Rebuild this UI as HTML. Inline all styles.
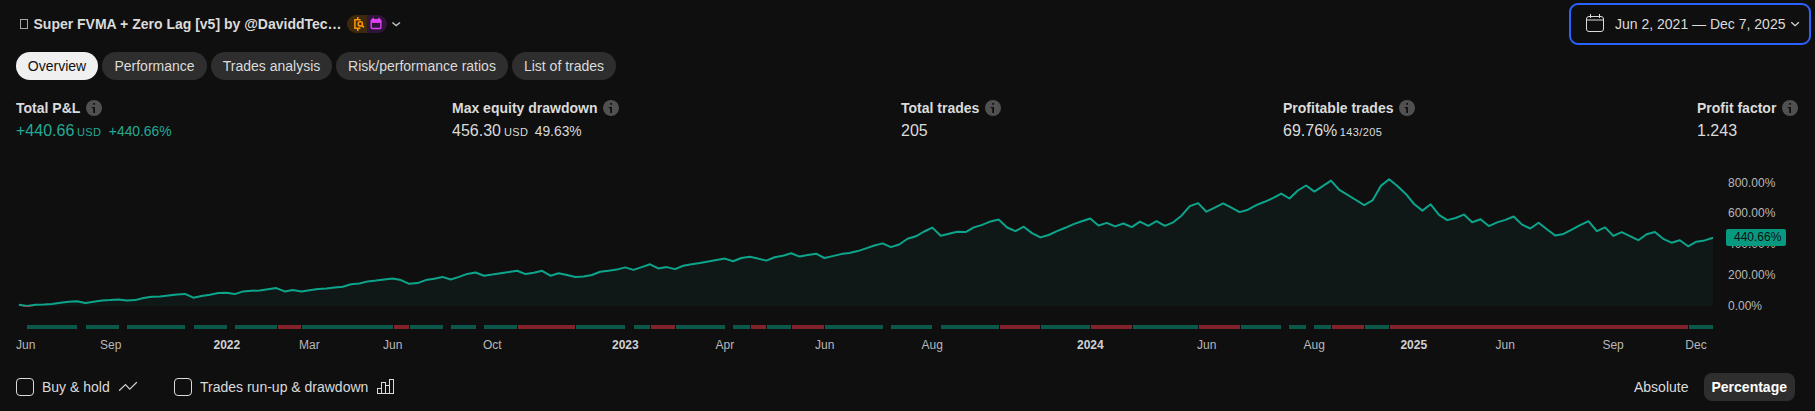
<!DOCTYPE html>
<html><head><meta charset="utf-8">
<style>
*{box-sizing:border-box;margin:0;padding:0}
html,body{width:1815px;height:411px;background:#0f0f0f;overflow:hidden}
body{font-family:"Liberation Sans",sans-serif;color:#dbdbdb;position:relative;font-size:14px}
.abs{position:absolute;white-space:nowrap}
.title{left:20px;top:16px;font-weight:bold;font-size:14px;line-height:16px;color:#dbdbdb}
.tofu{position:absolute;left:20px;top:19px;width:8px;height:10px;border:1px solid #a8a8a8}
.pill{left:347px;top:15px;width:40px;height:18px;border-radius:9px;overflow:hidden;display:flex}
.pill i{display:block;width:20px;height:18px}
.date{left:1569px;top:3px;width:242px;height:42px;border:2px solid #2962ff;border-radius:9px}
.tab{top:52px;height:28px;border-radius:14px;background:#2e2e2e;color:#dbdbdb;font-size:14px;line-height:28px;text-align:center}
.tab.on{background:#f0f0f0;color:#0f0f0f}
.lbl{top:100px;font-weight:bold;font-size:14px;line-height:16px}
.val{top:122px;font-size:16px;line-height:18px}
.val small{font-size:11px;margin-left:2.6px;letter-spacing:0.38px}
.val span{font-size:13.85px;margin-left:7.6px}
.info{display:inline-block;vertical-align:top;margin-left:6px}
.ax{font-size:12px;line-height:14px;color:#b8b8b8}
.ax b{color:#d1d1d1}
.cb{width:18px;height:18px;border:1px solid #dbdbdb;border-radius:4px;top:378px}
.bt{top:379px;font-size:14px;line-height:16px}
</style></head><body>
<div class="tofu"></div>
<div class="abs title" style="left:33.5px">Super FVMA + Zero Lag [v5] by @DaviddTec…</div>
<div class="abs pill"><i style="background:#3d2a0e"></i><i style="background:#2f1537"></i></div>
<div class="abs date"></div>
<div class="abs" style="left:1615px;top:16px;font-size:14px;line-height:16px">Jun 2, 2021 — Dec 7, 2025</div>

<div class="abs tab on" style="left:16px;width:82px">Overview</div>
<div class="abs tab" style="left:102px;width:105px">Performance</div>
<div class="abs tab" style="left:211px;width:121px">Trades analysis</div>
<div class="abs tab" style="left:336px;width:172px">Risk/performance ratios</div>
<div class="abs tab" style="left:512px;width:104px">List of trades</div>

<div class="abs lbl" style="left:16px">Total P&amp;L<svg class="info" width="16" height="16" viewBox="0 0 16 16"><circle cx="8" cy="8" r="8" fill="#505050"/><path d="M7.2 3h1.8v1.7H7.2zM5.8 6.9H9v6H7.2V8.3H5.8z" fill="#0f0f0f"/></svg></div>
<div class="abs val" style="left:16px;color:#22ab94">+440.66<small>USD</small><span>+440.66%</span></div>
<div class="abs lbl" style="left:452px">Max equity drawdown<svg class="info" width="16" height="16" viewBox="0 0 16 16"><circle cx="8" cy="8" r="8" fill="#505050"/><path d="M7.2 3h1.8v1.7H7.2zM5.8 6.9H9v6H7.2V8.3H5.8z" fill="#0f0f0f"/></svg></div>
<div class="abs val" style="left:452px">456.30<small style="margin-left:3px">USD</small><span style="margin-left:6.4px">49.63%</span></div>
<div class="abs lbl" style="left:901px">Total trades<svg class="info" width="16" height="16" viewBox="0 0 16 16"><circle cx="8" cy="8" r="8" fill="#505050"/><path d="M7.2 3h1.8v1.7H7.2zM5.8 6.9H9v6H7.2V8.3H5.8z" fill="#0f0f0f"/></svg></div>
<div class="abs val" style="left:901px">205</div>
<div class="abs lbl" style="left:1283px">Profitable trades<svg class="info" width="16" height="16" viewBox="0 0 16 16"><circle cx="8" cy="8" r="8" fill="#505050"/><path d="M7.2 3h1.8v1.7H7.2zM5.8 6.9H9v6H7.2V8.3H5.8z" fill="#0f0f0f"/></svg></div>
<div class="abs val" style="left:1283px">69.76%<small>143/205</small></div>
<div class="abs lbl" style="left:1697px">Profit factor<svg class="info" width="16" height="16" viewBox="0 0 16 16"><circle cx="8" cy="8" r="8" fill="#505050"/><path d="M7.2 3h1.8v1.7H7.2zM5.8 6.9H9v6H7.2V8.3H5.8z" fill="#0f0f0f"/></svg></div>
<div class="abs val" style="left:1697px">1.243</div>

<svg class="abs" id="chart" style="left:0;top:160px" width="1815" height="180" viewBox="0 160 1815 180">
<!--CHART-->
<path d="M18.9,306.3 L18.9,304.7 L27.2,306.1 L35.5,304.7 L43.8,304.6 L52.1,304.0 L60.4,302.7 L68.7,301.7 L77.0,301.3 L85.3,303.0 L93.6,301.7 L101.9,300.6 L110.2,300.1 L118.6,299.4 L126.9,300.6 L135.2,300.1 L143.5,298.0 L151.8,296.8 L160.1,296.4 L168.4,295.5 L176.7,294.5 L185.0,293.9 L193.3,297.7 L201.6,296.1 L209.9,294.7 L218.2,293.1 L226.5,292.7 L234.8,294.1 L243.1,291.4 L251.4,290.8 L259.7,290.4 L268.0,289.3 L276.3,288.1 L284.6,291.4 L292.9,290.0 L301.3,291.4 L309.6,290.2 L317.9,289.1 L326.2,288.4 L334.5,287.5 L342.8,286.7 L351.1,284.3 L359.4,283.5 L367.7,281.4 L376.0,280.5 L384.3,279.4 L392.6,278.5 L400.9,280.1 L409.2,283.8 L417.5,283.1 L425.8,280.1 L434.1,278.7 L442.4,276.9 L450.7,279.5 L459.0,276.9 L467.3,273.9 L475.6,272.5 L484.0,275.7 L492.3,274.6 L500.6,273.3 L508.9,272.1 L517.2,270.7 L525.5,274.1 L533.8,272.8 L542.1,270.8 L550.4,275.7 L558.7,273.3 L567.0,275.0 L575.3,277.0 L583.6,276.6 L591.9,275.0 L600.2,271.7 L608.5,270.7 L616.8,269.6 L625.1,267.4 L633.4,269.9 L641.7,267.1 L650.0,264.3 L658.3,268.4 L666.7,267.1 L675.0,269.1 L683.3,265.8 L691.6,264.2 L699.9,263.1 L708.2,261.5 L716.5,260.1 L724.8,258.6 L733.1,261.3 L741.4,258.0 L749.7,256.8 L758.0,258.6 L766.3,260.6 L774.6,257.3 L782.9,255.7 L791.2,253.3 L799.5,256.6 L807.8,255.1 L816.1,253.7 L824.4,258.0 L832.7,256.1 L841.0,254.1 L849.4,252.9 L857.7,251.1 L866.0,248.4 L874.3,245.5 L882.6,243.4 L890.9,247.1 L899.2,244.5 L907.5,238.8 L915.8,236.3 L924.1,231.5 L932.4,227.6 L940.7,235.8 L949.0,233.7 L957.3,231.7 L965.6,232.1 L973.9,227.4 L982.2,224.9 L990.5,221.4 L998.8,219.6 L1007.1,227.5 L1015.4,231.1 L1023.7,226.7 L1032.0,233.1 L1040.4,237.4 L1048.7,235.0 L1057.0,231.1 L1065.3,227.8 L1073.6,224.1 L1081.9,221.2 L1090.2,218.5 L1098.5,225.5 L1106.8,222.9 L1115.1,226.4 L1123.4,223.5 L1131.7,227.1 L1140.0,221.6 L1148.3,225.8 L1156.6,221.2 L1164.9,225.8 L1173.2,222.3 L1181.5,215.7 L1189.8,206.1 L1198.1,203.1 L1206.4,211.7 L1214.7,207.7 L1223.1,203.4 L1231.4,207.7 L1239.7,212.1 L1248.0,209.7 L1256.3,205.1 L1264.6,201.8 L1272.9,198.2 L1281.2,193.6 L1289.5,198.5 L1297.8,190.5 L1306.1,185.5 L1314.4,191.6 L1322.7,186.2 L1331.0,180.6 L1339.3,189.9 L1347.6,194.9 L1355.9,200.0 L1364.2,205.1 L1372.5,200.4 L1380.8,185.9 L1389.1,179.2 L1397.4,186.0 L1405.8,193.9 L1414.1,204.0 L1422.4,210.6 L1430.7,204.3 L1439.0,214.9 L1447.3,220.1 L1455.6,218.0 L1463.9,214.6 L1472.2,222.2 L1480.5,219.3 L1488.8,226.1 L1497.1,222.4 L1505.4,219.9 L1513.7,216.5 L1522.0,224.6 L1530.3,228.5 L1538.6,222.7 L1546.9,229.3 L1555.2,235.5 L1563.5,233.9 L1571.8,229.7 L1580.1,225.2 L1588.5,221.2 L1596.8,231.1 L1605.1,227.4 L1613.4,235.9 L1621.7,232.2 L1630.0,236.2 L1638.3,240.2 L1646.6,234.2 L1654.9,232.0 L1663.2,238.8 L1671.5,242.7 L1679.8,240.2 L1688.1,246.3 L1696.4,241.7 L1704.7,240.4 L1713.0,237.8 L1713.0,306.3 Z" fill="#101817"/>
<polyline points="18.9,304.7 27.2,306.1 35.5,304.7 43.8,304.6 52.1,304.0 60.4,302.7 68.7,301.7 77.0,301.3 85.3,303.0 93.6,301.7 101.9,300.6 110.2,300.1 118.6,299.4 126.9,300.6 135.2,300.1 143.5,298.0 151.8,296.8 160.1,296.4 168.4,295.5 176.7,294.5 185.0,293.9 193.3,297.7 201.6,296.1 209.9,294.7 218.2,293.1 226.5,292.7 234.8,294.1 243.1,291.4 251.4,290.8 259.7,290.4 268.0,289.3 276.3,288.1 284.6,291.4 292.9,290.0 301.3,291.4 309.6,290.2 317.9,289.1 326.2,288.4 334.5,287.5 342.8,286.7 351.1,284.3 359.4,283.5 367.7,281.4 376.0,280.5 384.3,279.4 392.6,278.5 400.9,280.1 409.2,283.8 417.5,283.1 425.8,280.1 434.1,278.7 442.4,276.9 450.7,279.5 459.0,276.9 467.3,273.9 475.6,272.5 484.0,275.7 492.3,274.6 500.6,273.3 508.9,272.1 517.2,270.7 525.5,274.1 533.8,272.8 542.1,270.8 550.4,275.7 558.7,273.3 567.0,275.0 575.3,277.0 583.6,276.6 591.9,275.0 600.2,271.7 608.5,270.7 616.8,269.6 625.1,267.4 633.4,269.9 641.7,267.1 650.0,264.3 658.3,268.4 666.7,267.1 675.0,269.1 683.3,265.8 691.6,264.2 699.9,263.1 708.2,261.5 716.5,260.1 724.8,258.6 733.1,261.3 741.4,258.0 749.7,256.8 758.0,258.6 766.3,260.6 774.6,257.3 782.9,255.7 791.2,253.3 799.5,256.6 807.8,255.1 816.1,253.7 824.4,258.0 832.7,256.1 841.0,254.1 849.4,252.9 857.7,251.1 866.0,248.4 874.3,245.5 882.6,243.4 890.9,247.1 899.2,244.5 907.5,238.8 915.8,236.3 924.1,231.5 932.4,227.6 940.7,235.8 949.0,233.7 957.3,231.7 965.6,232.1 973.9,227.4 982.2,224.9 990.5,221.4 998.8,219.6 1007.1,227.5 1015.4,231.1 1023.7,226.7 1032.0,233.1 1040.4,237.4 1048.7,235.0 1057.0,231.1 1065.3,227.8 1073.6,224.1 1081.9,221.2 1090.2,218.5 1098.5,225.5 1106.8,222.9 1115.1,226.4 1123.4,223.5 1131.7,227.1 1140.0,221.6 1148.3,225.8 1156.6,221.2 1164.9,225.8 1173.2,222.3 1181.5,215.7 1189.8,206.1 1198.1,203.1 1206.4,211.7 1214.7,207.7 1223.1,203.4 1231.4,207.7 1239.7,212.1 1248.0,209.7 1256.3,205.1 1264.6,201.8 1272.9,198.2 1281.2,193.6 1289.5,198.5 1297.8,190.5 1306.1,185.5 1314.4,191.6 1322.7,186.2 1331.0,180.6 1339.3,189.9 1347.6,194.9 1355.9,200.0 1364.2,205.1 1372.5,200.4 1380.8,185.9 1389.1,179.2 1397.4,186.0 1405.8,193.9 1414.1,204.0 1422.4,210.6 1430.7,204.3 1439.0,214.9 1447.3,220.1 1455.6,218.0 1463.9,214.6 1472.2,222.2 1480.5,219.3 1488.8,226.1 1497.1,222.4 1505.4,219.9 1513.7,216.5 1522.0,224.6 1530.3,228.5 1538.6,222.7 1546.9,229.3 1555.2,235.5 1563.5,233.9 1571.8,229.7 1580.1,225.2 1588.5,221.2 1596.8,231.1 1605.1,227.4 1613.4,235.9 1621.7,232.2 1630.0,236.2 1638.3,240.2 1646.6,234.2 1654.9,232.0 1663.2,238.8 1671.5,242.7 1679.8,240.2 1688.1,246.3 1696.4,241.7 1704.7,240.4 1713.0,237.8" fill="none" stroke="#0ca58c" stroke-width="2" stroke-linejoin="round" stroke-linecap="butt"/>
<clipPath id="neg"><rect x="0" y="306.2" width="1815" height="10"/></clipPath>
<polyline points="18.9,304.7 27.2,306.1 35.5,304.7 43.8,304.6 52.1,304.0 60.4,302.7 68.7,301.7 77.0,301.3 85.3,303.0 93.6,301.7 101.9,300.6 110.2,300.1 118.6,299.4 126.9,300.6 135.2,300.1 143.5,298.0 151.8,296.8 160.1,296.4 168.4,295.5 176.7,294.5 185.0,293.9 193.3,297.7 201.6,296.1 209.9,294.7 218.2,293.1 226.5,292.7 234.8,294.1 243.1,291.4 251.4,290.8 259.7,290.4 268.0,289.3 276.3,288.1 284.6,291.4 292.9,290.0 301.3,291.4 309.6,290.2 317.9,289.1 326.2,288.4 334.5,287.5 342.8,286.7 351.1,284.3 359.4,283.5 367.7,281.4 376.0,280.5 384.3,279.4 392.6,278.5 400.9,280.1 409.2,283.8 417.5,283.1 425.8,280.1 434.1,278.7 442.4,276.9 450.7,279.5 459.0,276.9 467.3,273.9 475.6,272.5 484.0,275.7 492.3,274.6 500.6,273.3 508.9,272.1 517.2,270.7 525.5,274.1 533.8,272.8 542.1,270.8 550.4,275.7 558.7,273.3 567.0,275.0 575.3,277.0 583.6,276.6 591.9,275.0 600.2,271.7 608.5,270.7 616.8,269.6 625.1,267.4 633.4,269.9 641.7,267.1 650.0,264.3 658.3,268.4 666.7,267.1 675.0,269.1 683.3,265.8 691.6,264.2 699.9,263.1 708.2,261.5 716.5,260.1 724.8,258.6 733.1,261.3 741.4,258.0 749.7,256.8 758.0,258.6 766.3,260.6 774.6,257.3 782.9,255.7 791.2,253.3 799.5,256.6 807.8,255.1 816.1,253.7 824.4,258.0 832.7,256.1 841.0,254.1 849.4,252.9 857.7,251.1 866.0,248.4 874.3,245.5 882.6,243.4 890.9,247.1 899.2,244.5 907.5,238.8 915.8,236.3 924.1,231.5 932.4,227.6 940.7,235.8 949.0,233.7 957.3,231.7 965.6,232.1 973.9,227.4 982.2,224.9 990.5,221.4 998.8,219.6 1007.1,227.5 1015.4,231.1 1023.7,226.7 1032.0,233.1 1040.4,237.4 1048.7,235.0 1057.0,231.1 1065.3,227.8 1073.6,224.1 1081.9,221.2 1090.2,218.5 1098.5,225.5 1106.8,222.9 1115.1,226.4 1123.4,223.5 1131.7,227.1 1140.0,221.6 1148.3,225.8 1156.6,221.2 1164.9,225.8 1173.2,222.3 1181.5,215.7 1189.8,206.1 1198.1,203.1 1206.4,211.7 1214.7,207.7 1223.1,203.4 1231.4,207.7 1239.7,212.1 1248.0,209.7 1256.3,205.1 1264.6,201.8 1272.9,198.2 1281.2,193.6 1289.5,198.5 1297.8,190.5 1306.1,185.5 1314.4,191.6 1322.7,186.2 1331.0,180.6 1339.3,189.9 1347.6,194.9 1355.9,200.0 1364.2,205.1 1372.5,200.4 1380.8,185.9 1389.1,179.2 1397.4,186.0 1405.8,193.9 1414.1,204.0 1422.4,210.6 1430.7,204.3 1439.0,214.9 1447.3,220.1 1455.6,218.0 1463.9,214.6 1472.2,222.2 1480.5,219.3 1488.8,226.1 1497.1,222.4 1505.4,219.9 1513.7,216.5 1522.0,224.6 1530.3,228.5 1538.6,222.7 1546.9,229.3 1555.2,235.5 1563.5,233.9 1571.8,229.7 1580.1,225.2 1588.5,221.2 1596.8,231.1 1605.1,227.4 1613.4,235.9 1621.7,232.2 1630.0,236.2 1638.3,240.2 1646.6,234.2 1654.9,232.0 1663.2,238.8 1671.5,242.7 1679.8,240.2 1688.1,246.3 1696.4,241.7 1704.7,240.4 1713.0,237.8" fill="none" stroke="#d0304a" stroke-width="2" stroke-linejoin="round" stroke-linecap="butt" clip-path="url(#neg)"/>
<rect x="27" y="325" width="50" height="4" fill="#0b574a"/>
<rect x="86" y="325" width="33" height="4" fill="#0b574a"/>
<rect x="127" y="325" width="58" height="4" fill="#0b574a"/>
<rect x="194" y="325" width="33" height="4" fill="#0b574a"/>
<rect x="235" y="325" width="42" height="4" fill="#0b574a"/>
<rect x="278" y="325" width="23" height="4" fill="#82222b"/>
<rect x="302" y="325" width="91" height="4" fill="#0b574a"/>
<rect x="394" y="325" width="15" height="4" fill="#82222b"/>
<rect x="410" y="325" width="33" height="4" fill="#0b574a"/>
<rect x="451" y="325" width="25" height="4" fill="#0b574a"/>
<rect x="484" y="325" width="33" height="4" fill="#0b574a"/>
<rect x="518" y="325" width="57" height="4" fill="#82222b"/>
<rect x="576" y="325" width="49" height="4" fill="#0b574a"/>
<rect x="634" y="325" width="16" height="4" fill="#0b574a"/>
<rect x="651" y="325" width="24" height="4" fill="#82222b"/>
<rect x="676" y="325" width="49" height="4" fill="#0b574a"/>
<rect x="733" y="325" width="17" height="4" fill="#0b574a"/>
<rect x="751" y="325" width="15" height="4" fill="#82222b"/>
<rect x="767" y="325" width="24" height="4" fill="#0b574a"/>
<rect x="792" y="325" width="32" height="4" fill="#82222b"/>
<rect x="825" y="325" width="58" height="4" fill="#0b574a"/>
<rect x="891" y="325" width="41" height="4" fill="#0b574a"/>
<rect x="941" y="325" width="58" height="4" fill="#0b574a"/>
<rect x="1000" y="325" width="40" height="4" fill="#82222b"/>
<rect x="1041" y="325" width="49" height="4" fill="#0b574a"/>
<rect x="1091" y="325" width="41" height="4" fill="#82222b"/>
<rect x="1133" y="325" width="65" height="4" fill="#0b574a"/>
<rect x="1199" y="325" width="41" height="4" fill="#82222b"/>
<rect x="1241" y="325" width="40" height="4" fill="#0b574a"/>
<rect x="1289" y="325" width="17" height="4" fill="#0b574a"/>
<rect x="1314" y="325" width="17" height="4" fill="#0b574a"/>
<rect x="1332" y="325" width="32" height="4" fill="#82222b"/>
<rect x="1365" y="325" width="24" height="4" fill="#0b574a"/>
<rect x="1390" y="325" width="298" height="4" fill="#82222b"/>
<rect x="1689" y="325" width="24" height="4" fill="#0b574a"/>
<!--/CHART-->
</svg>

<div class="abs ax" style="left:1728px;top:176px">800.00%</div>
<div class="abs ax" style="left:1728px;top:206px">600.00%</div>
<div class="abs ax" style="left:1728px;top:237px">400.00%</div>
<div class="abs ax" style="left:1728px;top:268px">200.00%</div>
<div class="abs ax" style="left:1728px;top:299px">0.00%</div>
<div class="abs ax" style="left:1725.5px;top:229px;width:60.5px;height:17px;background:#089981;border-radius:2px;color:#0f0f0f;padding-left:8.5px;padding-top:1px;line-height:15px">440.66%</div>

<div class="abs ax" style="left:16px;top:338px">Jun</div>
<div class="abs ax" style="left:100px;top:338px">Sep</div>
<div class="abs ax" style="left:213.5px;top:338px"><b>2022</b></div>
<div class="abs ax" style="left:299px;top:338px">Mar</div>
<div class="abs ax" style="left:383px;top:338px">Jun</div>
<div class="abs ax" style="left:483px;top:338px">Oct</div>
<div class="abs ax" style="left:612px;top:338px"><b>2023</b></div>
<div class="abs ax" style="left:715.6px;top:338px">Apr</div>
<div class="abs ax" style="left:815px;top:338px">Jun</div>
<div class="abs ax" style="left:921.6px;top:338px">Aug</div>
<div class="abs ax" style="left:1077px;top:338px"><b>2024</b></div>
<div class="abs ax" style="left:1197px;top:338px">Jun</div>
<div class="abs ax" style="left:1303.6px;top:338px">Aug</div>
<div class="abs ax" style="left:1400.4px;top:338px"><b>2025</b></div>
<div class="abs ax" style="left:1495.6px;top:338px">Jun</div>
<div class="abs ax" style="left:1602.4px;top:338px">Sep</div>
<div class="abs ax" style="left:1685.3px;top:338px">Dec</div>

<svg class="abs" style="left:0;top:0" width="1815" height="411" viewBox="0 0 1815 411" fill="none">
<g stroke="#ff9800" stroke-width="1.5">
<path d="M357.8 17.1V19.6M357.8 28.2V31M360.6 19.7H354.9V28.2H360.4"/>
<circle cx="360.3" cy="23.9" r="2.2"/>
<path d="M362 25.6L364 27.4"/>
</g>
<g>
<rect x="371.2" y="19.7" width="9.7" height="8.8" rx="1.3" stroke="#e040fb" stroke-width="1.4"/>
<rect x="371.2" y="19.7" width="9.7" height="3.2" fill="#e040fb"/>
<path d="M373.2 17.8V20M379 17.8V20" stroke="#e040fb" stroke-width="1.5"/>
</g>
<path d="M392.4 22.4L396.2 25.6L400 22.4" stroke="#c4c4c4" stroke-width="1.3"/>
<g stroke="#dbdbdb" stroke-width="1">
<rect x="1586.5" y="16.5" width="17" height="15" rx="2.5"/>
<path d="M1586.5 20H1603.5M1590.5 14V18M1599.5 14V18"/>
</g>
<path d="M1791.3 22.3L1795.1 25.7L1798.9 22.3" stroke="#dbdbdb" stroke-width="1.2"/>
<path d="M119.5 390.3L125.5 384.6L129.8 389.2L136.5 382.5" stroke="#d0d0d0" stroke-width="1.2" stroke-linecap="round"/>
<g stroke="#dbdbdb" stroke-width="1">
<rect x="377.5" y="388.5" width="4" height="5"/>
<rect x="381.5" y="382.5" width="4" height="11"/>
<rect x="385.5" y="385.5" width="4" height="8"/>
<rect x="389.5" y="379.5" width="4" height="14"/>
</g>
</svg>
<div class="abs cb" style="left:16px"></div>
<div class="abs bt" style="left:42px">Buy &amp; hold</div>
<div class="abs cb" style="left:174px"></div>
<div class="abs bt" style="left:200px">Trades run-up &amp; drawdown</div>
<div class="abs bt" style="left:1634px">Absolute</div>
<div class="abs" style="left:1704px;top:373px;width:91px;height:28px;border-radius:8px;background:#2e2e2e"></div>
<div class="abs bt" style="left:1711.5px;font-weight:bold;color:#fff">Percentage</div>
</body></html>
